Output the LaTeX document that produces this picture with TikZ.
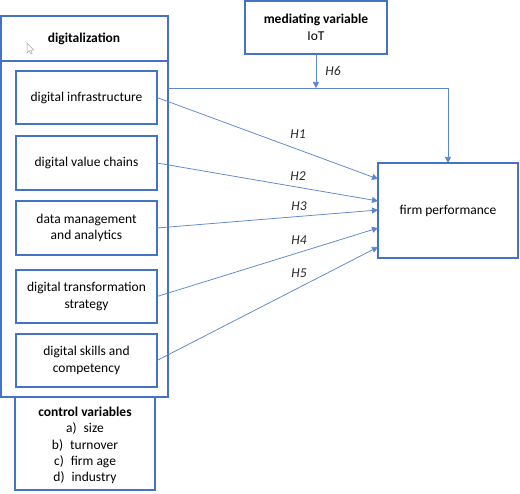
\documentclass[tikz,border=0pt]{standalone}
\usepackage{fontspec}
\setmainfont{Carlito}
\usetikzlibrary{arrows.meta}
\definecolor{oblue}{HTML}{4472C4}
\definecolor{lblue}{HTML}{5B86D0}
\tikzset{
  box/.style={draw=oblue, line width=1.1pt, inner sep=0pt, outer sep=0pt, align=center,
    font=\fontsize{13.5}{16.7}\selectfont},
  conn/.style={draw=lblue, line width=0.75pt, -{Triangle[width=6pt,length=6pt]}},
  plain/.style={draw=lblue, line width=0.75pt},
  hlab/.style={font=\fontsize{13.5}{16}\selectfont\itshape, text=black!85},
}
\begin{document}
\begin{tikzpicture}[x=1pt,y=-1pt]
\useasboundingbox (0,0) rectangle (520,494);
% outer digitalization box
\node[box, minimum width=167pt, minimum height=381pt] (dig) at (84.5,206.5) {};
\draw[oblue, line width=1.1pt] (1,61) -- (168,61);
\node[font=\fontsize{13.5}{16.7}\selectfont\bfseries] (digt) at (84,39) {digitalization};
% cursor
\draw[gray!70, line width=0.5pt, fill=white] (27,43) -- (27,53) -- (29.3,50.8) -- (30.8,54) -- (32.2,53.3) -- (30.7,50.2) -- (33.8,50.2) -- cycle;
% inner boxes
\node[box, minimum width=141pt, minimum height=53pt] (infra) at (86.5,97.5) {digital infrastructure};
\node[box, minimum width=141pt, minimum height=54pt] (value) at (86.5,163) {digital value chains};
\node[box, minimum width=141pt, minimum height=54pt] (data) at (86.5,228) {data management\\and analytics};
\node[box, minimum width=141pt, minimum height=53pt] (strat) at (86.5,296.5) {digital transformation\\strategy};
\node[box, minimum width=141pt, minimum height=53pt] (skills) at (86.5,360.5) {digital skills and\\competency};
% control variables
\node[box, minimum width=140pt, minimum height=93pt] (ctrl) at (85,443.5) {};
\node[align=center, font=\fontsize{13.5}{16.2}\selectfont, inner sep=0pt] (ctrlt) at (85,445.5)
  {\textbf{control variables}\\a)\hspace{7pt}size\\b)\hspace{7pt}turnover\\c)\hspace{7pt}firm age\\d)\hspace{7pt}industry};
% mediating variable
\node[box, minimum width=142pt, minimum height=53pt] (med) at (316,27.5) {\textbf{mediating variable}\\IoT};
% firm performance
\node[box, minimum width=140pt, minimum height=95pt] (fp) at (448,210.5) {firm performance};
% connectors
\coordinate (j) at (448,88);
\coordinate (e1) at (378,179);
\coordinate (e2) at (378,201);
\coordinate (e3) at (378,210);
\coordinate (e4) at (378,228);
\coordinate (e5) at (378,247);
\draw[plain] (dig.east |- j) -- (j);
\draw[conn] (j) -- (fp.north);
\draw[conn] (med.south) -- (med.south |- j);
\draw[conn] (infra.east) -- (e1);
\draw[conn] (value.east) -- (e2);
\draw[conn] (data.east) -- (e3);
\draw[conn] (strat.east) -- (e4);
\draw[conn] (skills.east) -- (e5);
% labels
\node[hlab] (h1) at (298,134) {H1};
\node[hlab] (h2) at (298,176) {H2};
\node[hlab] (h3) at (299,206) {H3};
\node[hlab] (h4) at (299,240) {H4};
\node[hlab] (h5) at (299,273) {H5};
\node[hlab] (h6) at (333,71) {H6};
\end{tikzpicture}
\end{document}
